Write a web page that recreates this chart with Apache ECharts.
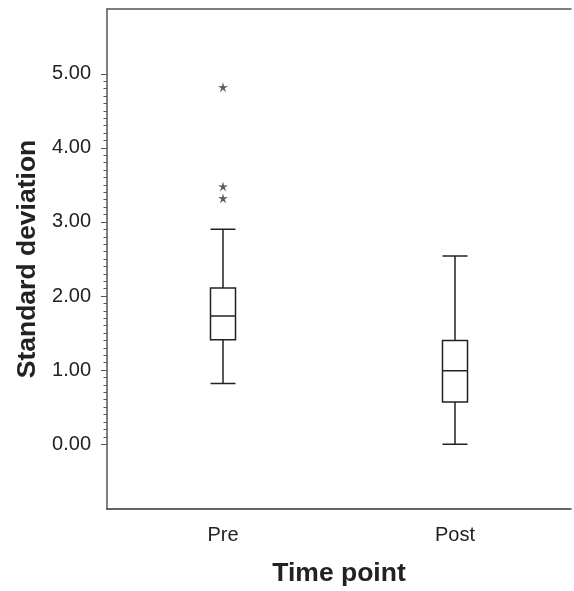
<!DOCTYPE html>
<html>
<head>
<meta charset="utf-8">
<script src="https://cdn.jsdelivr.net/npm/echarts@6/dist/echarts.min.js"></script>
<style>
html,body{margin:0;padding:0;background:#fff;}
#chart{width:574px;height:591px;}
</style>
</head>
<body>
<div id="chart"></div>
<script>
const categories = ['Pre', 'Post'];
// [min, Q1, median, Q3, max]
const boxValues = [
  [0.82, 1.41, 1.73, 2.11, 2.90],
  [0.00, 0.57, 0.99, 1.40, 2.54]
];
const outliers = [
  ['Pre', 4.82],
  ['Pre', 3.48],
  ['Pre', 3.32]
];
const yTickValues = [0, 1, 2, 3, 4, 5];
const xTitle = 'Time point';
const yTitle = 'Standard deviation';

const minorTicks = [];
for (let i = 1; i < 50; i++) { if (i % 10 !== 0) minorTicks.push(i / 10); }

const FONT = '"Liberation Sans", Arial, sans-serif';
const GRID_LEFT = 107, GRID_RIGHT = 3, W = 574;
const chart = echarts.init(document.getElementById('chart'), null, {renderer: 'canvas'});
const starPath = (function(){
  let p = 'path://';
  const n = 5;
  for (let k = 0; k < 2 * n; k++) {
    const r = (k % 2 === 0) ? 10 : 3.4;
    const a = -Math.PI / 2 + k * Math.PI / n;
    p += (k === 0 ? 'M' : 'L') + (10 + r * Math.cos(a)).toFixed(2) + ',' + (10 + r * Math.sin(a)).toFixed(2);
  }
  return p + 'Z';
})();

chart.setOption({
  animation: false,
  backgroundColor: '#fff',
  grid: {left: GRID_LEFT, right: GRID_RIGHT, top: 9, bottom: 82, containLabel: false, outerBoundsMode: 'none'},
  xAxis: [{
    type: 'category',
    data: categories,
    position: 'bottom',
    axisLine: {onZero: false, lineStyle: {color: '#333', width: 1.5}},
    axisTick: {alignWithLabel: true, length: 5, lineStyle: {color: '#555'}},
    axisLabel: {fontSize: 20, color: '#222', margin: 16, fontFamily: FONT},
    name: xTitle,
    nameLocation: 'middle',
    nameGap: 51,
    nameTextStyle: {fontSize: 26.5, fontWeight: 'bold', color: '#222', fontFamily: FONT},
    splitLine: {show: false}
  }, {
    type: 'category',
    data: categories,
    position: 'top',
    axisLine: {onZero: false, lineStyle: {color: '#555', width: 1.5}},
    axisTick: {show: false},
    axisLabel: {show: false},
    splitLine: {show: false}
  }],
  yAxis: [{
    type: 'value',
    min: -0.875,
    max: 5.875,
    position: 'left',
    axisLine: {show: true, onZero: false, lineStyle: {color: '#555', width: 1.5}},
    axisTick: {show: true, length: 6, customValues: yTickValues, lineStyle: {color: '#555'}},
    axisLabel: {
      customValues: yTickValues,
      fontSize: 20, color: '#222', margin: 16, fontFamily: FONT,
      formatter: v => v.toFixed(2)
    },
    splitLine: {show: false},
    name: yTitle,
    nameLocation: 'middle',
    nameGap: 65,
    nameRotate: 90,
    nameTextStyle: {fontSize: 26.5, fontWeight: 'bold', color: '#222', fontFamily: FONT}
  }, {
    type: 'value',
    min: -0.875,
    max: 5.875,
    position: 'right',
    offset: -(W - GRID_LEFT - GRID_RIGHT),
    axisLine: {show: false, onZero: false},
    axisTick: {show: true, inside: true, length: 3.5, customValues: minorTicks, lineStyle: {color: '#555'}},
    axisLabel: {show: false},
    splitLine: {show: false}
  }],
  series: [{
    type: 'boxplot',
    data: boxValues,
    boxWidth: [25, 25],
    itemStyle: {color: '#fff', borderColor: '#222', borderWidth: 1.5},
    emphasis: {disabled: true}
  }, {
    type: 'scatter',
    data: outliers,
    symbol: starPath,
    symbolSize: 10,
    itemStyle: {color: '#333'}
  }]
});
</script>
</body>
</html>
